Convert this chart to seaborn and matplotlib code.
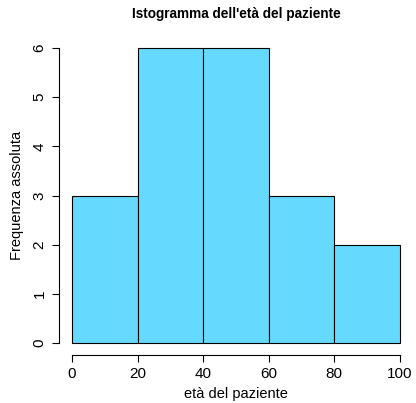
import matplotlib
matplotlib.use("Agg")
import matplotlib.pyplot as plt
import seaborn as sns
import pandas as pd

bin_edges = [0, 20, 40, 60, 80, 100]
bin_mids = [10, 30, 50, 70, 90]
counts = [3, 6, 6, 3, 2]
x_ticks = [0, 20, 40, 60, 80, 100]
y_ticks = [0, 1, 2, 3, 4, 5, 6]

sns.set_style("white")
plt.rcParams['font.family'] = ['Liberation Sans', 'DejaVu Sans']
plt.rcParams.update({"text.color": "black", "axes.labelcolor": "black",
                     "xtick.color": "black", "ytick.color": "black"})

df = pd.DataFrame({"eta": bin_mids, "n": counts})

fig = plt.figure(figsize=(4.16, 4.03), dpi=100)
ax = fig.add_axes([59/416, 1-355/403, (413-59)/416, (355-36)/403])

sns.histplot(data=df, x="eta", weights="n", bins=bin_edges, ax=ax,
             color="#66D9FF", edgecolor="black", linewidth=0.8, alpha=1)

ax.set_xlim(-4, 104)
ax.set_ylim(-0.24, 6.24)
ax.set_xticks(x_ticks)
ax.set_yticks(y_ticks)
for s in ["top", "right"]:
    ax.spines[s].set_visible(False)
ax.spines["left"].set_bounds(0, 6)
ax.spines["bottom"].set_bounds(0, 100)
for s in ["left", "bottom"]:
    ax.spines[s].set_linewidth(0.8)
    ax.spines[s].set_color("black")
ax.tick_params(axis="both", direction="out", length=5, width=0.8, color="black",
               labelcolor="black", labelsize=11, pad=4, bottom=True, left=True)
for lab in ax.get_yticklabels():
    lab.set_rotation(90)
    lab.set_va("center")
ax.set_xlabel("età del paziente", fontsize=10.5, labelpad=4, color="black")
ax.set_ylabel("Frequenza assoluta", fontsize=10.5, labelpad=6, color="black")
ax.set_title("Istogramma dell'età del paziente", fontsize=9.8, fontweight="bold",
             pad=13, color="black")
ax.grid(False)

fig.savefig("out.png", dpi=100)
